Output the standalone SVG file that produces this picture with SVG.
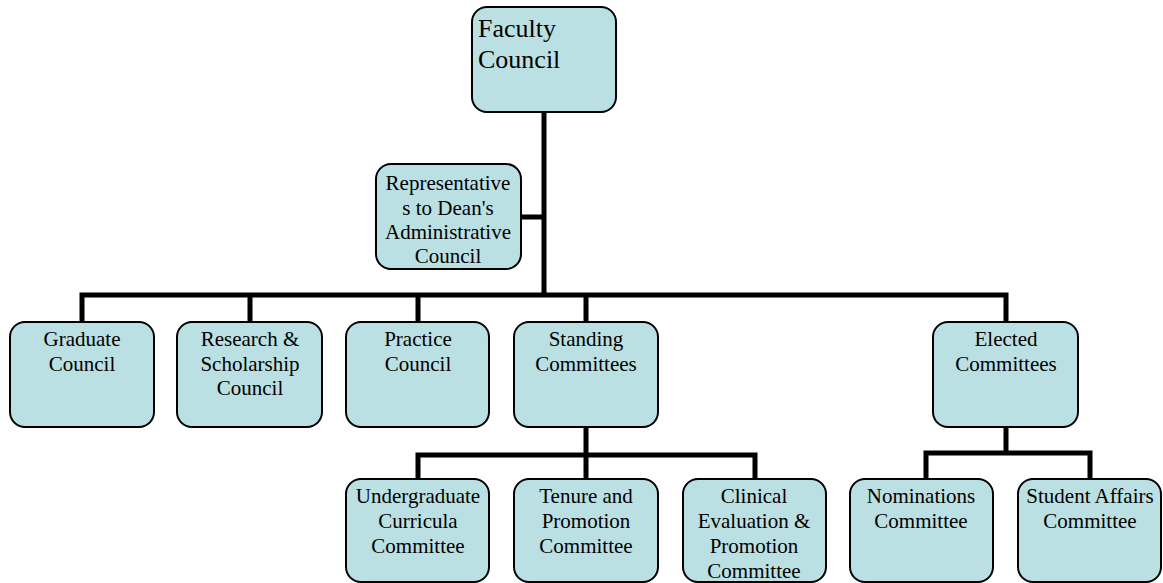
<svg xmlns="http://www.w3.org/2000/svg" width="1163" height="583" viewBox="0 0 1163 583">
<style>
.box{fill:#BBE0E3;stroke:#000;stroke-width:2}
.t{font-family:'Liberation Serif','Times New Roman','DejaVu Serif',serif;font-size:21px;fill:#000;text-anchor:middle}
.big{font-family:'Liberation Serif','Times New Roman','DejaVu Serif',serif;font-size:26px;fill:#000}
.c{fill:none;stroke:#000;stroke-width:5;stroke-linejoin:miter;stroke-linecap:butt}
</style>
<rect width="1163" height="583" fill="#fff"/>
<g id="connectors">
<path class="c" d="M544,112V295"/>
<path class="c" d="M521,217H546"/>
<path class="c" d="M82,322V295H1006V322"/>
<path class="c" d="M250,295V322M418,295V322M586,295V322"/>
<path class="c" d="M586,427V455"/>
<path class="c" d="M418,479V455H755V479M586,455V479"/>
<path class="c" d="M1006,427V453"/>
<path class="c" d="M926,479V453H1090V479"/>
</g>
<g id="faculty-council">
<rect class="box" x="472" y="7" width="144" height="105" rx="15"/>
<text class="big" x="478" y="37">Faculty</text>
<text class="big" x="478" y="68">Council</text>
</g>
<g id="representatives">
<rect class="box" x="376" y="164" width="145" height="105" rx="15"/>
<text class="t" x="448" y="190">Representative</text>
<text class="t" x="448" y="215">s to Dean's</text>
<text class="t" x="448" y="239">Administrative</text>
<text class="t" x="448" y="263">Council</text>
</g>
<g id="graduate-council">
<rect class="box" x="10" y="322" width="144" height="105" rx="15"/>
<text class="t" x="82" y="346">Graduate</text>
<text class="t" x="82" y="371">Council</text>
</g>
<g id="research-council">
<rect class="box" x="177" y="322" width="145" height="105" rx="15"/>
<text class="t" x="250" y="346">Research &amp;</text>
<text class="t" x="250" y="371">Scholarship</text>
<text class="t" x="250" y="395">Council</text>
</g>
<g id="practice-council">
<rect class="box" x="346" y="322" width="143" height="105" rx="15"/>
<text class="t" x="418" y="346">Practice</text>
<text class="t" x="418" y="371">Council</text>
</g>
<g id="standing-committees">
<rect class="box" x="514" y="322" width="144" height="105" rx="15"/>
<text class="t" x="586" y="346">Standing</text>
<text class="t" x="586" y="371">Committees</text>
</g>
<g id="elected-committees">
<rect class="box" x="933" y="322" width="145" height="105" rx="15"/>
<text class="t" x="1006" y="346">Elected</text>
<text class="t" x="1006" y="371">Committees</text>
</g>
<g id="undergraduate-curricula">
<rect class="box" x="346" y="479" width="143" height="103" rx="15"/>
<text class="t" x="418" y="503">Undergraduate</text>
<text class="t" x="418" y="528">Curricula</text>
<text class="t" x="418" y="553">Committee</text>
</g>
<g id="tenure-promotion">
<rect class="box" x="514" y="479" width="144" height="103" rx="15"/>
<text class="t" x="586" y="503">Tenure and</text>
<text class="t" x="586" y="528">Promotion</text>
<text class="t" x="586" y="553">Committee</text>
</g>
<g id="clinical-evaluation">
<rect class="box" x="683" y="479" width="143" height="103" rx="15"/>
<text class="t" x="754" y="503">Clinical</text>
<text class="t" x="754" y="528">Evaluation &amp;</text>
<text class="t" x="754" y="553">Promotion</text>
<text class="t" x="754" y="578">Committee</text>
</g>
<g id="nominations">
<rect class="box" x="850" y="479" width="143" height="103" rx="15"/>
<text class="t" x="921" y="503">Nominations</text>
<text class="t" x="921" y="528">Committee</text>
</g>
<g id="student-affairs">
<rect class="box" x="1018" y="479" width="143" height="103" rx="15"/>
<text class="t" x="1090" y="503">Student Affairs</text>
<text class="t" x="1090" y="528">Committee</text>
</g>
</svg>
